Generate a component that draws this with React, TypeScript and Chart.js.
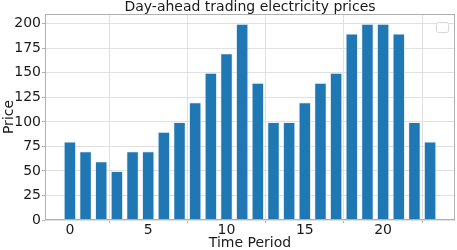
import React, { useEffect, useRef } from "react";
import { Chart, registerables } from "chart.js";

Chart.register(...registerables);

const periods: number[] = [0, 1, 2, 3, 4, 5, 6, 7, 8, 9, 10, 11, 12, 13, 14, 15, 16, 17, 18, 19, 20, 21, 22, 23];
const prices: number[] = [80, 70, 60, 50, 70, 70, 90, 100, 120, 150, 170, 200, 140, 100, 100, 120, 140, 150, 190, 200, 200, 190, 100, 80];
const xTicks: number[] = [0, 5, 10, 15, 20];
const yTicks: number[] = [0, 25, 50, 75, 100, 125, 150, 175, 200];

const FONT = "'DejaVu Sans', sans-serif";
const TEXT = "#1a1a1a";

const framePlugin = {
  id: "frame",
  afterDraw(chart: any) {
    const { ctx, chartArea } = chart;
    ctx.save();
    ctx.strokeStyle = "#b0b0b0";
    ctx.lineWidth = 1;
    ctx.strokeRect(chartArea.left + 0.5, chartArea.top + 0.5, chartArea.right - chartArea.left - 1, chartArea.bottom - chartArea.top - 1);
    // empty legend box
    const w = 12, h = 10;
    const x = chartArea.right - 19;
    const y = chartArea.top + 8;
    ctx.strokeStyle = "#d6d6d6";
    ctx.fillStyle = "rgba(255,255,255,0.8)";
    ctx.beginPath();
    (ctx as any).roundRect(x + 0.5, y + 0.5, w, h, 2);
    ctx.fill();
    ctx.stroke();
    ctx.restore();
  },
};

export default function App() {
  const ref = useRef<HTMLCanvasElement>(null);
  useEffect(() => {
    if (!ref.current) return;
    const chart = new Chart(ref.current, {
      type: "bar",
      data: {
        datasets: [
          {
            data: periods.map((p, i) => ({ x: p, y: prices[i] })),
            backgroundColor: "#1f77b4",
            borderColor: "rgba(230,240,250,0.7)",
            borderWidth: 1,
            barPercentage: 0.8,
            categoryPercentage: 1.0,
          },
        ],
      },
      options: {
        animation: false,
        responsive: false,
        maintainAspectRatio: false,
        layout: { padding: { left: 0, right: 2, top: 0, bottom: 0 } },
        plugins: {
          legend: { display: false },
          tooltip: { enabled: false },
          title: {
            display: true,
            text: "Day-ahead trading electricity prices",
            color: TEXT,
            font: { family: FONT, size: 14, weight: "normal", lineHeight: 1.0 },
            padding: { top: 0, bottom: 0 },
            fullSize: false,
          },
        },
        scales: {
          x: {
            type: "linear",
            min: -1.59,
            max: 24.59,
            offset: false,
            afterBuildTicks: (s: any) => {
              s.ticks = xTicks.map((v) => ({ value: v }));
            },
            afterFit: (s: any) => {
              s.height = 30;
            },
            grid: { color: "#e0e0e0", tickColor: "#b0b0b0", drawTicks: true, tickLength: 3, lineWidth: 1 },
            border: { display: false },
            ticks: { color: TEXT, font: { family: FONT, size: 14, lineHeight: 1.0 }, padding: 0, maxRotation: 0 },
            title: { display: true, text: "Time Period", color: TEXT, font: { family: FONT, size: 14, lineHeight: 1.0 }, padding: { top: 0, bottom: 0 } },
          },
          y: {
            min: 0,
            max: 210,
            afterBuildTicks: (s: any) => {
              s.ticks = yTicks.map((v) => ({ value: v }));
            },
            afterFit: (s: any) => {
              s.width = 45;
            },
            grid: { color: "#e0e0e0", tickColor: "#b0b0b0", drawTicks: true, tickLength: 3, lineWidth: 1 },
            border: { display: false },
            ticks: { color: TEXT, font: { family: FONT, size: 14 }, padding: 1 },
            title: { display: true, text: "Price", color: TEXT, font: { family: FONT, size: 14, lineHeight: 1.0 }, padding: { top: 2, bottom: 0 } },
          },
        },
      },
      plugins: [framePlugin],
    });
    return () => chart.destroy();
  }, []);
  return (
    <div style={{ position: "fixed", left: 0, top: 0, width: 457, height: 250, background: "#fff" }}>
      <canvas ref={ref} width={457} height={250} style={{ width: 457, height: 250, display: "block" }} />
    </div>
  );
}
